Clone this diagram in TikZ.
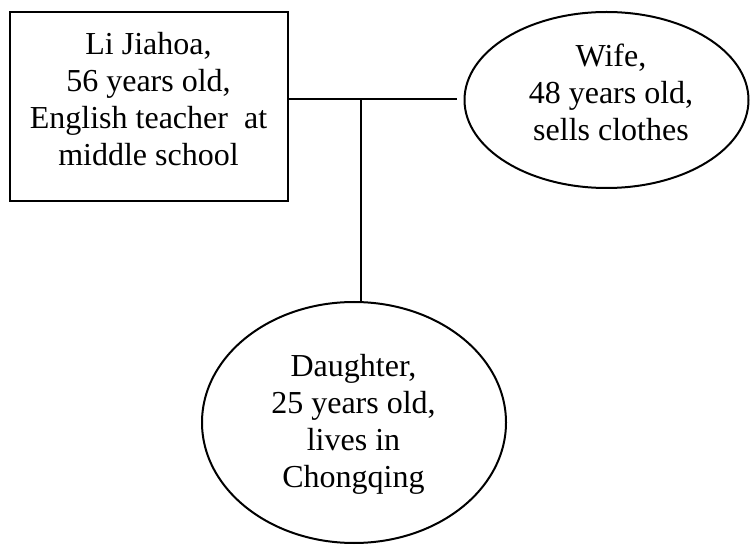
\documentclass[tikz,border=0pt]{standalone}
\usepackage{fontspec}
\setmainfont{Liberation Serif}
\usetikzlibrary{shapes.geometric,calc}

\tikzset{
  outline/.style={draw=black, line width=2pt, inner sep=0pt},
  member/.style={align=center, inner sep=0pt,
    font=\fontsize{32pt}{37pt}\selectfont},
  link/.style={draw=black, line width=2pt},
}

\begin{document}
\begin{tikzpicture}[x=1pt, y=-1pt]
  \useasboundingbox (0,0) rectangle (750,545);

  % family members
  \node[outline, rectangle, minimum width=278pt, minimum height=189pt]
    (father) at (148.5,107) {};
  \node[outline, ellipse, minimum width=284pt, minimum height=176pt]
    (wife) at (606.5,100) {};
  \node[outline, ellipse, minimum width=304pt, minimum height=241pt]
    (daughter) at (354,422.5) {};

  % their descriptions
  \node[member] (father-text) at (148.5,99)
    {Li Jiahoa,\\56 years old,\\English teacher\ \ at\\middle school};
  \node[member] (wife-text) at (611,92)
    {Wife,\\48 years old,\\sells clothes};
  \node[member] (daughter-text) at (353.5,424)
    {Daughter,\\25 years old,\\lives in\\Chongqing};

  % marriage bar and line of descent
  \coordinate (bar) at (361,99.3);
  \coordinate (bar-end) at (457,99.3);
  \draw[link] (father.east |- bar) -- (bar-end);
  \draw[link] (bar) -- (bar |- daughter.north);
\end{tikzpicture}
\end{document}
